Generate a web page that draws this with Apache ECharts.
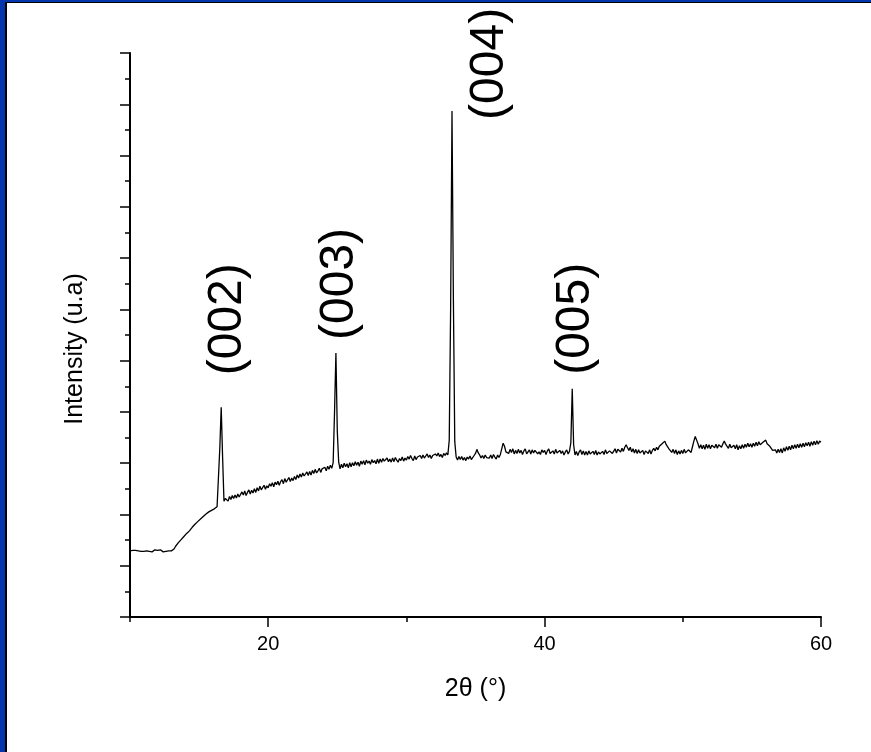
<!DOCTYPE html>
<html>
<head>
<meta charset="utf-8">
<script src="https://cdn.jsdelivr.net/npm/echarts@6/dist/echarts.min.js"></script>
<style>
  html, body { margin: 0; padding: 0; background: #fff; }
  #wrap { position: relative; width: 871px; height: 752px; overflow: hidden; background: #fff; }
  #chart { position: absolute; left: 0; top: 0; width: 871px; height: 752px; }
  .edge { position: absolute; }
</style>
</head>
<body>
<div id="wrap">
  <div id="chart"></div>
  <div class="edge" style="left:0;top:0;width:5px;height:752px;background:#0535ad;"></div>
  <div class="edge" style="left:5px;top:2px;width:2px;height:750px;background:#000;"></div>
  <div class="edge" style="left:0;top:0;width:871px;height:2px;background:#0535ad;"></div>
  <div class="edge" style="left:5px;top:2px;width:866px;height:1px;background:#000;"></div>
</div>
<script>
// XRD scan: 2θ from 10° to 60° in 0.1° steps
const scanStart = 10.0;
const scanStep = 0.1;

// Measured intensity (arbitrary units), one row per degree
const intensity = [
  129,127,130,128,130,128,129,131,128,130,   // 10
  128,130,129,131,128,130,127,129,131,128,   // 11
  130,128,131,129,127,130,128,131,129,128,   // 12
  129,132,133,138,139,145,146,151,151,157,   // 13
  158,163,164,168,170,175,175,181,181,186,   // 14
  187,191,192,196,196,201,200,205,204,208,   // 15
  208,211,212,215,216,330,409,312,226,231,   // 16
  233,226,235,229,237,231,238,232,240,234,   // 17
  236,244,238,246,237,243,248,240,247,242,   // 18
  250,243,252,246,255,248,251,257,249,256,   // 19
  252,260,255,262,254,263,258,265,257,264,   // 20
  268,260,270,263,266,272,264,271,266,274,   // 21
  268,277,271,279,273,281,275,278,283,276,   // 22
  284,277,286,280,288,281,285,290,282,289,   // 23
  286,292,285,294,288,296,290,301,400,515,   // 24
  362,302,289,298,291,300,293,299,291,301,   // 25
  293,301,295,303,296,302,294,304,298,305,   // 26
  297,306,300,304,298,307,301,305,299,308,   // 27
  300,308,302,309,304,301,310,303,308,302,   // 28
  310,303,311,306,302,309,305,312,304,310,   // 29
  306,313,308,315,309,305,314,307,312,310,   // 30
  315,309,316,310,314,318,311,316,309,315,   // 31
  312,318,314,320,313,317,311,319,315,320,   // 32
  316,345,600,987,620,342,312,306,313,307,   // 33
  313,306,311,305,312,308,314,307,310,315,   // 34
  319,327,320,316,310,315,309,316,311,314,   // 35
  310,316,309,317,312,308,316,311,317,320,   // 36
  339,333,322,325,319,327,321,328,318,325,   // 37
  319,327,320,325,317,324,328,318,322,326,   // 38
  318,326,320,325,327,318,322,317,326,321,   // 39
  325,317,324,328,319,316,324,318,327,320,   // 40
  317,325,319,324,316,322,326,318,323,340,   // 41
  445,336,316,323,315,322,326,317,324,316,   // 42
  323,316,324,318,315,323,317,325,316,322,   // 43
  318,315,323,317,326,319,316,324,327,319,   // 44
  322,328,320,327,330,322,329,323,331,336,   // 45
  330,325,331,322,328,320,327,319,326,320,   // 46
  318,325,317,324,327,319,326,318,325,329,   // 47
  324,331,326,333,332,338,340,343,336,335,   // 48
  328,325,321,327,319,326,317,324,318,325,   // 49
  319,327,320,318,326,328,321,332,343,352,   // 50
  345,338,329,336,328,335,327,337,329,336,   // 51
  328,335,338,330,337,329,336,339,331,338,   // 52
  343,337,336,329,337,330,327,335,328,336,   // 53
  326,334,328,336,329,337,331,339,332,338,   // 54
  331,339,333,341,334,342,336,333,341,344,   // 55
  345,338,340,333,333,325,326,326,320,327,   // 56
  321,328,320,330,323,332,325,333,326,335,   // 57
  328,336,329,337,330,338,331,339,332,340,   // 58
  334,341,333,342,335,343,336,344,337,343,   // 59
  341                                        // 60
];

// Indexed reflections
const peakLabels = ['(002)', '(003)', '(004)', '(005)'];
const peakAngles = [16.6, 24.9, 33.3, 42.0];

// Tick values
const xMajorTicks = [20, 40, 60];

// Label placement relative to each peak apex (pixels)
const labelShift = [[7, -32], [4, -13], [38, 9], [4, -14]];

const scan = intensity.map((v, i) => [+(scanStart + i * scanStep).toFixed(1), v]);

const FONT = '"Liberation Sans", Arial, sans-serif';
const chart = echarts.init(document.getElementById('chart'), null, { renderer: 'canvas' });

const axisLine = { show: true, onZero: false, lineStyle: { color: '#000', width: 2 } };

chart.setOption({
  backgroundColor: '#fff',
  animation: false,
  grid: { left: 130, right: 50, top: 53, bottom: 135, containLabel: false },
  xAxis: [
    {
      type: 'value', min: 10, max: 60, interval: 10,
      position: 'bottom',
      axisLine: axisLine,
      axisTick: { show: true, length: 5, lineStyle: { color: '#000', width: 1.5 } },
      axisLabel: { show: false },
      splitLine: { show: false },
      name: '2θ (°)', nameLocation: 'middle', nameGap: 60,
      nameTextStyle: { color: '#000', fontSize: 25, fontFamily: FONT }
    },
    {
      type: 'value', min: 10, max: 60,
      position: 'bottom',
      axisLine: { show: false },
      axisTick: { show: true, length: 10, customValues: xMajorTicks, lineStyle: { color: '#000', width: 1.5 } },
      axisLabel: { show: true, customValues: xMajorTicks, margin: 17, color: '#000', fontSize: 20, fontFamily: FONT },
      splitLine: { show: false }
    }
  ],
  yAxis: {
    type: 'value', min: 0, max: 1100, interval: 100,
    axisLine: axisLine,
    axisTick: { show: true, length: 10, lineStyle: { color: '#000', width: 1.5 } },
    minorTick: { show: true, splitNumber: 2, length: 5, lineStyle: { color: '#000', width: 1.5 } },
    axisLabel: { show: false },
    splitLine: { show: false },
    name: 'Intensity (u.a)', nameLocation: 'middle', nameRotate: 90, nameGap: 42,
    nameTextStyle: { color: '#000', fontSize: 25, fontFamily: FONT, padding: [0, 28, 0, 0] }
  },
  series: [{
    type: 'line',
    xAxisIndex: 0,
    data: scan,
    showSymbol: false,
    symbol: 'none',
    lineStyle: { color: '#000', width: 1.3 },
    silent: true
  }]
});

// Rotated reflection labels placed just above each peak
const graphics = peakLabels.map((txt, i) => {
  const idx = Math.round((peakAngles[i] - scanStart) / scanStep);
  const p = chart.convertToPixel({ xAxisIndex: 0, yAxisIndex: 0 }, [peakAngles[i], intensity[idx]]);
  return {
    type: 'text',
    x: p[0] + labelShift[i][0],
    y: p[1] + labelShift[i][1],
    rotation: Math.PI / 2,
    style: {
      text: txt,
      fill: '#000',
      font: '48px ' + FONT,
      textAlign: 'left',
      textVerticalAlign: 'middle'
    }
  };
});
chart.setOption({ graphic: graphics });
</script>
</body>
</html>
